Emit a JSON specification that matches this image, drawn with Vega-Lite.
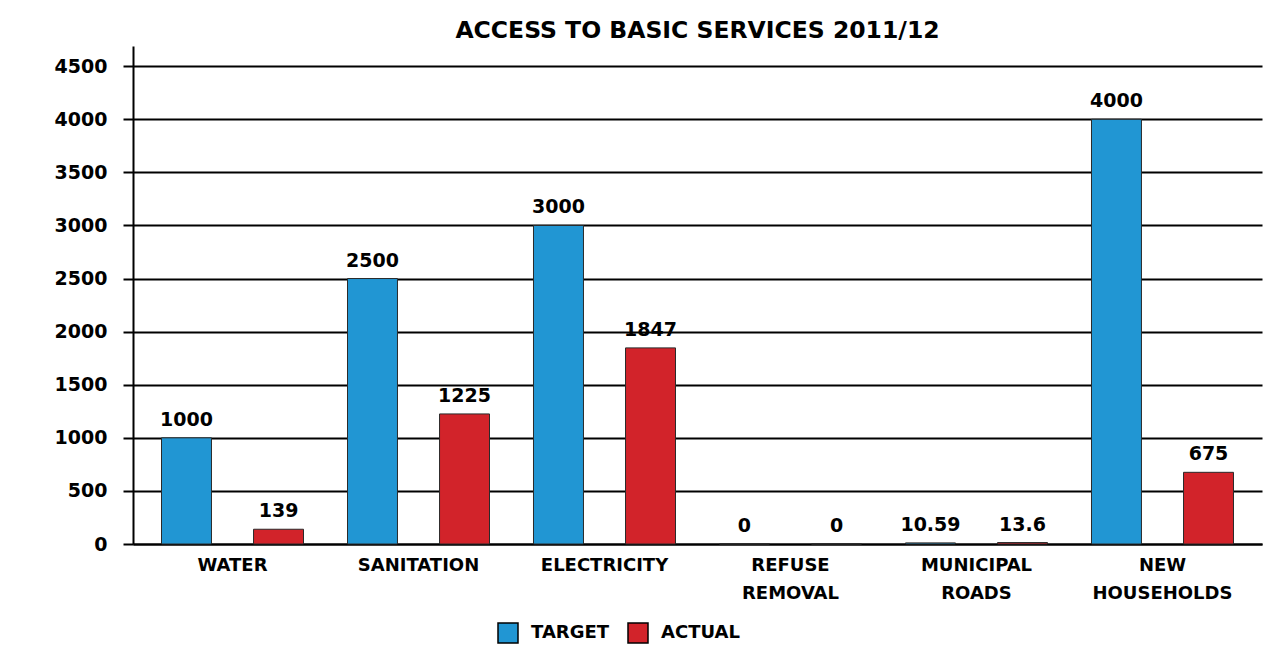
{
  "$schema": "https://vega.github.io/schema/vega-lite/v6.json",
  "autosize": {"type": "none"},
  "padding": {"left": 133, "top": 46, "right": 3, "bottom": 109},
  "width": 1129,
  "height": 498,
  "background": "white",
  "title": {
    "text": "ACCESS TO BASIC SERVICES 2011/12",
    "font": "DejaVu Sans",
    "fontSize": 23.5,
    "fontWeight": "bold",
    "color": "black",
    "anchor": "middle",
    "offset": 4
  },
  "data": {
    "values": [
      {"category": "WATER", "series": "TARGET", "value": 1000, "label": "1000"},
      {"category": "WATER", "series": "ACTUAL", "value": 139, "label": "139"},
      {"category": "SANITATION", "series": "TARGET", "value": 2500, "label": "2500"},
      {"category": "SANITATION", "series": "ACTUAL", "value": 1225, "label": "1225"},
      {"category": "ELECTRICITY", "series": "TARGET", "value": 3000, "label": "3000"},
      {"category": "ELECTRICITY", "series": "ACTUAL", "value": 1847, "label": "1847"},
      {"category": "REFUSE REMOVAL", "series": "TARGET", "value": 0, "label": "0"},
      {"category": "REFUSE REMOVAL", "series": "ACTUAL", "value": 0, "label": "0"},
      {"category": "MUNICIPAL ROADS", "series": "TARGET", "value": 10.59, "label": "10.59"},
      {"category": "MUNICIPAL ROADS", "series": "ACTUAL", "value": 13.6, "label": "13.6"},
      {"category": "NEW HOUSEHOLDS", "series": "TARGET", "value": 4000, "label": "4000"},
      {"category": "NEW HOUSEHOLDS", "series": "ACTUAL", "value": 675, "label": "675"}
    ]
  },
  "encoding": {
    "x": {
      "field": "category",
      "type": "nominal",
      "sort": ["WATER", "SANITATION", "ELECTRICITY", "REFUSE REMOVAL", "MUNICIPAL ROADS", "NEW HOUSEHOLDS"],
      "scale": {"paddingInner": 0, "paddingOuter": 0.035},
      "axis": {
        "title": null,
        "labelAngle": 0,
        "labelExpr": "split(datum.label, ' ')",
        "labelFont": "DejaVu Sans",
        "labelFontSize": 18,
        "labelFontWeight": "bold",
        "labelColor": "black",
        "labelLineHeight": 28,
        "labelPadding": 12,
        "ticks": false,
        "domain": true,
        "domainColor": "black",
        "domainWidth": 2,
        "grid": false
      }
    },
    "xOffset": {
      "field": "series",
      "type": "nominal",
      "sort": ["TARGET", "ACTUAL"],
      "scale": {"paddingInner": 0.457, "paddingOuter": 0.239}
    },
    "y": {
      "field": "value",
      "type": "quantitative",
      "scale": {"domain": [0, 4690], "nice": false},
      "axis": {
        "title": null,
        "format": "d",
        "values": [0, 500, 1000, 1500, 2000, 2500, 3000, 3500, 4000, 4500],
        "labelFont": "DejaVu Sans",
        "labelFontSize": 19,
        "labelFontWeight": "bold",
        "labelColor": "black",
        "labelPadding": 16,
        "tickSize": 10,
        "tickColor": "black",
        "tickWidth": 2,
        "domainColor": "black",
        "domainWidth": 2,
        "grid": true,
        "gridColor": "black",
        "gridWidth": 2
      }
    }
  },
  "layer": [
    {
      "mark": {"type": "bar", "stroke": "#2a2a2a", "strokeWidth": 1},
      "encoding": {
        "color": {
          "field": "series",
          "type": "nominal",
          "scale": {"domain": ["TARGET", "ACTUAL"], "range": ["#2196D3", "#D2232A"]},
          "legend": {
            "title": null,
            "orient": "none",
            "direction": "horizontal",
            "legendX": 364,
            "legendY": 576,
            "symbolType": "square",
            "symbolSize": 400,
            "symbolStrokeColor": "black",
            "symbolStrokeWidth": 1.5,
            "labelFont": "DejaVu Sans",
            "labelFontSize": 18,
            "labelFontWeight": "bold",
            "labelColor": "black",
            "labelOffset": 12,
            "columnPadding": 15
          }
        }
      }
    },
    {
      "mark": {
        "type": "text",
        "baseline": "bottom",
        "dy": -8,
        "font": "DejaVu Sans",
        "fontSize": 19,
        "fontWeight": "bold",
        "color": "black"
      },
      "encoding": {
        "text": {"field": "label", "type": "nominal"}
      }
    }
  ],
  "config": {
    "view": {"stroke": null}
  }
}
